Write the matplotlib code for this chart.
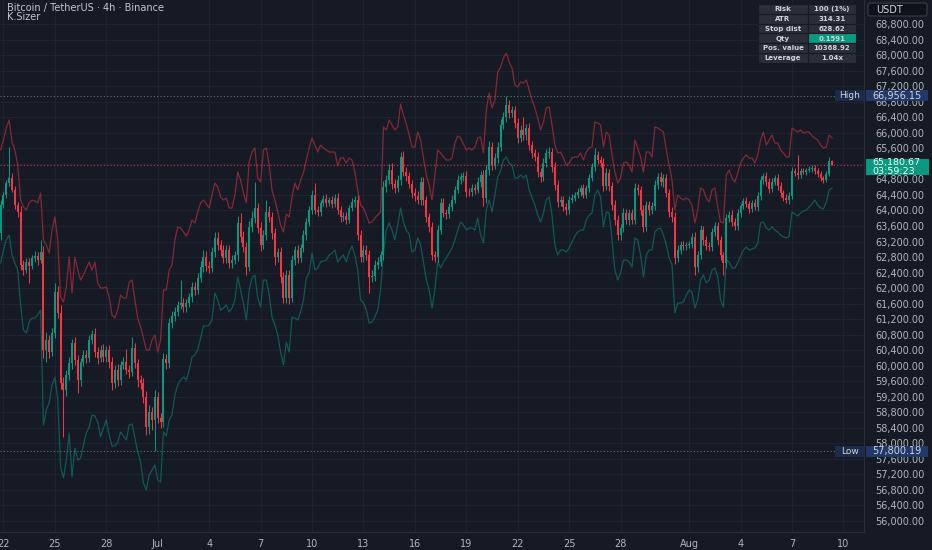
import matplotlib
matplotlib.use("Agg")
import matplotlib.pyplot as plt
import matplotlib.transforms as mtransforms
from matplotlib.patches import Rectangle, FancyBboxPatch
import numpy as np
import pandas as pd

# ---------------- data ----------------
start_time = "2024-06-21 20:00"
first_open = 63419

closes = [
    64140, 64398, 64707, 64836, 64527, 64140, 63960, 62595, 62466, 62672,
    62569, 62775, 62826, 62723, 62929, 60405, 60663, 60353, 60843, 61899,
    61358, 59555, 59375, 59761, 60070, 60585, 60147, 59632, 60096, 60276,
    60199, 60663, 60817, 60353, 60199, 60405, 60225, 60405, 60096, 59555,
    59890, 59632, 60019, 60096, 59890, 59838, 60457, 60070, 59632, 59555,
    59194, 58421, 58808, 58602, 59194, 58653, 58550, 60173, 60070, 61101,
    61281, 61384, 61564, 61616, 61513, 61616, 61770, 62028, 61951, 62260,
    62543, 62801, 62569, 62517, 62929, 63290, 63110, 62981, 62775, 62981,
    62646, 62723, 62852, 63677, 63316, 63058, 62543, 63574, 63805, 64063,
    63548, 63110, 63367, 63960, 63831, 63419, 62801, 62929, 62286, 61744,
    62337, 61744, 62723, 62981, 62775, 63033, 63367, 63702, 64011, 64398,
    64011, 63960, 64192, 64295, 64192, 64269, 64166, 64321, 64011, 63831,
    63857, 63754, 64063, 64218, 64269, 63367, 62801, 62981, 62852, 62286,
    62311, 62595, 62672, 62852, 64604, 64784, 65042, 64681, 64578, 64784,
    65377, 64990, 64887, 64681, 64449, 64372, 64269, 64733, 64269, 63831,
    63574, 62852, 62801, 63496, 64192, 63934, 63910, 64089, 64269, 64527,
    64784, 64861, 64887, 64475, 64470, 64578, 64527, 64733, 64913, 64321,
    65042, 65634, 65170, 65351, 65634, 66201, 66407, 66716, 66510, 66587,
    66253, 65866, 66072, 65943, 66124, 65686, 65480, 65377, 64990, 64861,
    65222, 65480, 65505, 65119, 64655, 64218, 64269, 64089, 64011, 64269,
    64321, 64398, 64475, 64578, 64398, 64578, 64836, 65119, 65428, 65299,
    65222, 64630, 64965, 64630, 64140, 63754, 63367, 63548, 63934, 63754,
    63934, 63754, 64578, 64527, 64011, 63574, 64140, 64011, 64114, 64655,
    64861, 64733, 64836, 64449, 63960, 63831, 62775, 62981, 63110, 63084,
    63110, 63125, 63316, 62543, 62852, 63496, 63239, 63084, 63058, 63445,
    63599, 63239, 62852, 62646, 63805, 63883, 63702, 63599, 63934, 64114,
    64243, 64166, 64037, 64192, 64089, 64372, 64784, 64887, 64733, 64552,
    64733, 64836, 64630, 64449, 64321, 64269, 64372, 65016, 64965, 64913,
    65016, 64990, 65042, 65067, 65093, 65016, 64939, 64836, 64784, 64939,
    65273, 65180.67,
]

upper_wick = [
    130, 90, 80, 800, 120, 100, 90, 150, 120, 100,
    110, 80, 120, 100, 310, 150, 200, 120, 130, 230,
    150, 200, 150, 120, 150, 100, 160, 120, 100, 120,
    140, 120, 110, 150, 130, 120, 160, 100, 130, 120,
    120, 150, 110, 140, 330, 120, 280, 130, 110, 120,
    120, 150, 170, 130, 190, 140, 120, 160, 140, 130,
    130, 120, 110, 590, 120, 100, 110, 120, 140, 130,
    150, 180, 150, 120, 140, 160, 150, 130, 120, 140,
    120, 130, 110, 190, 257, 150, 140, 150, 170, 670,
    130, 150, 140, 310, 150, 140, 120, 110, 130, 140,
    130, 140, 120, 110, 130, 110, 120, 110, 100, 120,
    310, 110, 90, 100, 120, 90, 110, 100, 120, 110,
    100, 110, 90, 100, 110, 120, 130, 140, 120, 140,
    150, 130, 120, 110, 160, 140, 150, 180, 130, 120,
    140, 160, 120, 110, 100, 120, 130, 140, 120, 110,
    110, 120, 100, 140, 130, 120, 100, 110, 120, 110,
    120, 110, 100, 120, 110, 100, 110, 120, 110, 130,
    140, 150, 130, 120, 140, 150, 130, 240.15, 120, 110,
    110, 120, 130, 335, 110, 120, 110, 100, 120, 110,
    120, 110, 120, 110, 120, 130, 100, 110, 90, 110,
    90, 80, 100, 90, 110, 90, 100, 110, 181, 100,
    110, 130, 120, 110, 100, 120, 130, 110, 120, 100,
    110, 100, 130, 110, 100, 120, 110, 100, 110, 120,
    110, 120, 100, 110, 100, 120, 130, 120, 110, 100,
    90, 100, 110, 120, 110, 120, 110, 100, 110, 100,
    100, 110, 100, 90, 110, 100, 120, 100, 110, 90,
    90, 100, 80, 90, 100, 110, 100, 90, 100, 90,
    90, 80, 100, 90, 80, 90, 100, 110, 90, 463,
    80, 70, 60, 70, 80, 70, 80, 70, 60, 70,
    104, 30,
]

lower_wick = [
    180, 80, 70, 90, 60, 110, 140, 120, 130, 90,
    440, 90, 100, 140, 80, 200, 300, 150, 100, 120,
    120, 150, 1210, 160, 120, 150, 140, 335, 150, 100,
    130, 110, 100, 140, 160, 110, 130, 120, 160, 170,
    140, 160, 120, 100, 110, 160, 110, 120, 170, 150,
    160, 210, 180, 250, 801.81, 130, 150, 120, 160, 120,
    140, 120, 100, 110, 130, 120, 100, 140, 120, 110,
    110, 130, 120, 140, 100, 120, 140, 150, 130, 120,
    140, 120, 110, 160, 120, 130, 200, 110, 120, 140,
    120, 160, 110, 130, 140, 150, 200, 130, 150, 130,
    140, 150, 110, 120, 130, 100, 110, 120, 100, 90,
    90, 100, 110, 80, 100, 90, 110, 80, 100, 120,
    110, 100, 90, 80, 120, 140, 130, 120, 140, 410,
    140, 120, 110, 100, 130, 120, 110, 130, 140, 110,
    120, 110, 130, 110, 120, 130, 100, 140, 120, 130,
    140, 130, 130, 120, 110, 100, 120, 110, 100, 90,
    90, 100, 110, 120, 100, 110, 100, 90, 120, 210,
    120, 130, 140, 110, 120, 100, 110, 120, 140, 110,
    120, 140, 110, 130, 120, 130, 120, 110, 140, 130,
    110, 100, 120, 130, 140, 120, 100, 110, 120, 90,
    80, 90, 80, 100, 90, 80, 100, 90, 110, 100,
    100, 120, 110, 140, 120, 130, 140, 120, 100, 110,
    120, 110, 100, 120, 130, 140, 110, 120, 100, 110,
    100, 110, 120, 100, 120, 130, 150, 110, 100, 90,
    100, 90, 80, 200, 120, 110, 120, 100, 90, 110,
    110, 120, 130, 309, 120, 90, 100, 110, 90, 100,
    80, 90, 100, 80, 90, 100, 90, 100, 110, 90,
    80, 90, 100, 90, 80, 90, 100, 80, 90, 100,
    70, 60, 70, 60, 70, 80, 70, 80, 70, 60,
    60, 20,
]

upper_band = [
    65557, 65815, 66124, 66330, 65763, 65557, 65170, 64269, 64089, 64011,
    64192, 64269, 64243, 64192, 64449, 63239, 63110, 62904, 63496, 63831,
    63239, 61770, 61641, 62028, 62801, 61874, 62801, 62466, 62208, 62337,
    62517, 62672, 62466, 62672, 62131, 62003, 62003, 62028, 61770, 61307,
    61230, 61435, 61822, 61744, 61744, 62157, 62208, 61693, 61230, 60998,
    60714, 60405, 60405, 60663, 60791, 60353, 60663, 61951, 61951, 62466,
    62595, 63239, 63574, 63548, 63445, 63342, 63496, 63754, 63677, 63960,
    64192, 64269, 64166, 64063, 64398, 64707, 64604, 64346, 64269, 64321,
    64063, 64063, 64398, 64990, 64784, 64449, 64192, 65248, 65505, 65609,
    64836, 64733, 65557, 65609, 65170, 64527, 64269, 63960, 63625, 63445,
    63908, 63831, 64346, 64707, 64527, 64784, 64965, 65299, 65609, 65866,
    65686, 65505, 65686, 65609, 65557, 65505, 65505, 65505, 65145, 65351,
    65351, 65222, 65351, 65299, 64990, 64527, 64140, 64063, 63883, 63677,
    63702, 63805, 63883, 63960, 66149, 66072, 66330, 66201, 66072, 66149,
    66742, 66459, 66227, 65943, 65634, 65634, 66021, 65815, 65351, 64913,
    64655, 64269, 64913, 65557, 65480, 65377, 65299, 65299, 65351, 65737,
    65918, 65866, 65712, 65557, 65609, 65557, 65634, 65866, 65892, 65480,
    66587, 67025, 66639, 66845, 67566, 67695, 67927, 68056, 67824, 67669,
    67231, 67180, 67309, 67283, 67360, 67103, 66845, 66639, 66381, 66072,
    66278, 66639, 66665, 66201, 65686, 65480, 65505, 65351, 65170, 65222,
    65351, 65377, 65377, 65480, 65299, 65505, 65609, 65634, 66278, 66253,
    66201, 65634, 66021, 65943, 65428, 64990, 64707, 64836, 65222, 65248,
    65170, 64990, 65815, 65609, 65377, 64990, 65505, 65505, 65377, 66149,
    66124, 66072, 66021, 65557, 65170, 64784, 64011, 64398, 64321, 64269,
    64321, 64269, 64140, 63677, 64011, 64578, 64527, 64321, 64218, 64527,
    64578, 64089, 63702, 63677, 64913, 65042, 64836, 64733, 64965, 65222,
    65351, 65428, 65351, 65351, 65222, 65428, 65815, 66021, 65686, 65815,
    65943, 65737, 65737, 65557, 65480, 65377, 65377, 66124, 66072, 66021,
    66072, 65995, 66021, 66021, 65918, 65866, 65815, 65686, 65609, 65634,
    65943, 65866,
]

lower_band = [
    62646, 62981, 63239, 63367, 62852, 62646, 62466, 61564, 60920, 60843,
    61126, 61230, 61230, 61307, 61435, 58473, 58859, 59040, 59503, 59709,
    59117, 57391, 57108, 57571, 58267, 57134, 57881, 57571, 57623, 57958,
    58267, 58421, 58731, 58705, 58550, 58164, 58396, 58602, 58215, 57932,
    57932, 58035, 58293, 58190, 58087, 58473, 58499, 58138, 57777, 57520,
    56979, 56799, 57185, 57314, 57443, 57056, 57005, 58293, 58190, 58602,
    58731, 59246, 59503, 59632, 59709, 59632, 59890, 60225, 60276, 60405,
    60714, 61023, 61023, 61049, 61178, 61874, 61693, 61435, 61487, 61564,
    61384, 61487, 61693, 62286, 61951, 61616, 61178, 61951, 62260, 62337,
    61744, 61513, 62208, 62208, 61822, 61255, 61049, 60791, 60353, 60019,
    60611, 60353, 61255, 61230, 61178, 61384, 61693, 62260, 62389, 62904,
    62466, 62517, 62672, 62698, 62723, 62852, 62904, 62981, 62672, 62775,
    62852, 62672, 62929, 63084, 62852, 62466, 61693, 61616, 61435, 61101,
    61126, 61255, 61435, 61951, 62904, 63496, 63677, 63496, 63239, 63625,
    64063, 63702, 63496, 63393, 62929, 62981, 63290, 63110, 62672, 62208,
    61951, 61487, 61951, 62672, 62517, 62672, 62775, 62904, 63033, 63239,
    63496, 63702, 63625, 63496, 63548, 63548, 63496, 63805, 63367, 63161,
    64011, 64269, 63960, 64398, 64861, 65016, 65299, 65377, 65222, 65170,
    64836, 64836, 64913, 64836, 64913, 64527, 64321, 64140, 63883, 63702,
    63934, 64269, 64346, 63883, 63110, 62852, 62981, 62981, 62929, 63033,
    63187, 63342, 63445, 63496, 63496, 63754, 63883, 63934, 64398, 64527,
    64346, 63574, 63960, 63934, 63239, 62466, 62208, 62389, 62723, 62723,
    62672, 62543, 63290, 63239, 62852, 62286, 62852, 62981, 62981, 63445,
    63522, 63548, 63367, 63110, 62775, 62595, 61358, 61616, 61616, 61641,
    61822, 61951, 61899, 61487, 61693, 62208, 62337, 62131, 62208, 62466,
    62517, 62286, 61693, 61513, 62723, 62672, 62517, 62517, 62646, 62826,
    62981, 63058, 62981, 63007, 63033, 63161, 63677, 63702, 63548, 63496,
    63574, 63496, 63445, 63367, 63316, 63290, 63342, 63960, 63908, 63857,
    63934, 63986, 64011, 64089, 64166, 64269, 64140, 64063, 64037, 64218,
    64527, 64578,
]

price_ticks = list(range(56000, 68801, 400))
hidden_price_ticks = [65200]          # covered by the last-price label
tick_dates = ["2024-06-22", "2024-06-25", "2024-06-28", "2024-07-01", "2024-07-04",
              "2024-07-07", "2024-07-10", "2024-07-13", "2024-07-16", "2024-07-19",
              "2024-07-22", "2024-07-25", "2024-07-28", "2024-08-01", "2024-08-04",
              "2024-08-07", "2024-08-10"]
tick_labels = ["22", "25", "28", "Jul", "4", "7", "10", "13", "16", "19",
               "22", "25", "28", "Aug", "4", "7", "10"]

high_value = 66956.15
low_value = 57800.19
last_price = 65180.67
countdown = "03:59:23"
title_text = "Bitcoin / TetherUS · 4h · Binance"
indicator_name = "K.Sizer"
currency = "USDT"
table_labels = ["Risk", "ATR", "Stop dist", "Qty", "Pos. value", "Leverage"]
table_values = ["100 (1%)", "314.31", "628.62", "0.1591", "10368.92", "1.04x"]

n = len(closes)
assert len(upper_wick) == n and len(lower_wick) == n
assert len(upper_band) == n and len(lower_band) == n

opens = [first_open] + closes[:-1]
highs = [max(o, c) + u for o, c, u in zip(opens, closes, upper_wick)]
lows = [min(o, c) - l for o, c, l in zip(opens, closes, lower_wick)]

t0 = pd.Timestamp(start_time)
tick_pos = [(pd.Timestamp(d) - t0) / pd.Timedelta(hours=4) for d in tick_dates]

# ---------------- style ----------------
BG = "#161a25"
GRID = "#1f2330"
UP = "#089981"
DOWN = "#f23645"
TXT = "#b2b5be"
W, H = 932, 550
PLOT_W, PLOT_H = 864, 532

fig = plt.figure(figsize=(W / 100, H / 100), dpi=100, facecolor=BG)
ax = fig.add_axes([0, (H - PLOT_H) / H, PLOT_W / W, PLOT_H / H])
ax.set_facecolor(BG)

ymin, ymax = 55717, 69421
ax.set_xlim(-0.21, 302.2)
ax.set_ylim(ymin, ymax)
ppx = (ymax - ymin) / PLOT_H  # price per pixel

x = np.arange(n)
o = np.array(opens, dtype=float)
c = np.array(closes, dtype=float)
hi = np.array(highs, dtype=float)
lo = np.array(lows, dtype=float)
cols = np.where(c >= o, UP, DOWN)

# bands
ax.plot(x, upper_band, color="#f23645", alpha=0.5, lw=0.9, zorder=2)
ax.plot(x, lower_band, color="#089981", alpha=0.5, lw=0.9, zorder=2)

# candles
ax.vlines(x, lo, hi, colors=cols, linewidth=0.75, zorder=3)
body_bottom = np.minimum(o, c)
body_h = np.maximum(np.abs(c - o), 18)
ax.bar(x, body_h, bottom=body_bottom, width=0.7, color=cols, linewidth=0, zorder=4)

# reference lines
ax.axhline(high_value, color="#6a6d78", ls=(0, (1, 2)), lw=0.8, zorder=1)
ax.axhline(low_value, color="#6a6d78", ls=(0, (1, 2)), lw=0.8, zorder=1)
ax.axhline(last_price, color=DOWN, ls=(0, (1, 2)), lw=0.8, alpha=0.85, zorder=1)

# axes / grid
ax.set_yticks(price_ticks)
ax.set_yticklabels(["" if v in hidden_price_ticks else f"{v:,.2f}" for v in price_ticks])
ax.yaxis.tick_right()
ax.tick_params(axis="y", length=0, pad=8, labelsize=7, labelcolor=TXT)
ax.set_xticks(tick_pos)
ax.set_xticklabels(tick_labels)
ax.tick_params(axis="x", length=0, pad=5, labelsize=7, labelcolor=TXT)
ax.grid(True, color=GRID, linewidth=0.8, zorder=0)
ax.set_axisbelow(True)
for side in ["top", "left"]:
    ax.spines[side].set_visible(False)
ax.spines["right"].set_color("#2a2e39")
ax.spines["bottom"].set_color("#2a2e39")
ax.spines["right"].set_linewidth(0.8)
ax.spines["bottom"].set_linewidth(0.8)

# price-axis labels (High / Low / last)
tr = mtransforms.blended_transform_factory(ax.transAxes, ax.transData)
def fx(px):
    return px / PLOT_W

for name, val in [("High", high_value), ("Low", low_value)]:
    ax.add_patch(Rectangle((fx(835), val - 5.5 * ppx), fx(29), 11 * ppx, transform=tr,
                           clip_on=False, facecolor="#1c2b4b", edgecolor="none", zorder=6))
    ax.add_patch(Rectangle((fx(866), val - 5.5 * ppx), fx(62), 11 * ppx, transform=tr,
                           clip_on=False, facecolor="#21396a", edgecolor="none", zorder=6))
    ax.text(fx(849.5), val, name, transform=tr, ha="center", va="center",
            fontsize=6.5, color="#d1d4dc", zorder=7, clip_on=False)
    ax.text(fx(872), val, f"{val:,.2f}", transform=tr, ha="left", va="center",
            fontsize=7, color="#d1d4dc", zorder=7, clip_on=False)

ax.add_patch(Rectangle((fx(866), last_price - 10.5 * ppx), fx(63), 16 * ppx, transform=tr,
                       clip_on=False, facecolor=UP, edgecolor="none", zorder=6))
ax.text(fx(872), last_price - 2.6 * ppx, f"{last_price:,.2f}\n{countdown}", transform=tr,
        ha="left", va="center", fontsize=6.8, linespacing=0.95, color="#ffffff",
        zorder=7, clip_on=False)

# ---------------- overlay (pixel coords) ----------------
ov = fig.add_axes([0, 0, 1, 1], facecolor="none")
ov.set_xlim(0, W)
ov.set_ylim(H, 0)
ov.axis("off")

ov.text(7, 7.5, title_text, fontsize=7, color="#c3c6ce", va="center", ha="left")
ov.text(7, 16.5, indicator_name, fontsize=7, color="#c3c6ce", va="center", ha="left")

ov.add_patch(FancyBboxPatch((868, 3), 59, 13, boxstyle="round,pad=0,rounding_size=2",
                            facecolor="#0f121a", edgecolor="#3a3e4a", linewidth=0.8))
ov.text(876, 9.8, currency, fontsize=7, color="#d1d4dc", va="center", ha="left")

tx0, tmid, tx1 = 758, 808, 856
ty0, rh = 4, 9.8
for k, (lab, val) in enumerate(zip(table_labels, table_values)):
    y0 = ty0 + k * rh
    ov.add_patch(Rectangle((tx0, y0), tmid - tx0, rh, facecolor="#2a2e39",
                           edgecolor=BG, linewidth=0.8))
    ov.add_patch(Rectangle((tmid, y0), tx1 - tmid, rh,
                           facecolor=UP if lab == "Qty" else "#2a2e39",
                           edgecolor=BG, linewidth=0.8))
    ov.text((tx0 + tmid) / 2, y0 + rh / 2 + 0.3, lab, fontsize=5, fontweight="bold",
            color="#d1d4dc", ha="center", va="center")
    ov.text((tmid + tx1) / 2, y0 + rh / 2 + 0.3, val, fontsize=5, fontweight="bold",
            color="#d1d4dc", ha="center", va="center")

fig.savefig("out.png", dpi=100, facecolor=BG)
